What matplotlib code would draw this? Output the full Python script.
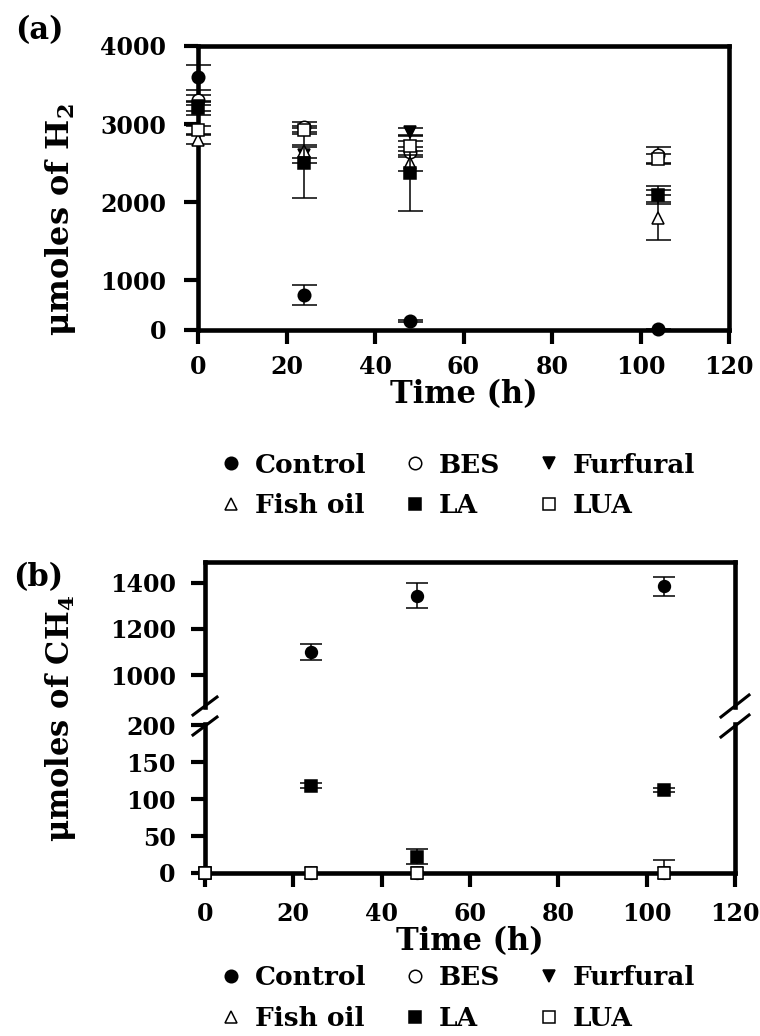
import numpy as np
import matplotlib
matplotlib.use('Agg')
import matplotlib.pyplot as plt
from matplotlib.lines import Line2D

# ---------------- data ----------------
series = ['Control', 'BES', 'Furfural', 'Fish oil', 'LA', 'LUA']
markers = ['o', 'o', 'v', '^', 's', 's']
fills = ['black', 'white', 'black', 'white', 'black', 'white']

time_a = [0, 24, 48, 104]
h2_control = [3600, 700, 180, 20]
h2_control_err = [160, 200, 20, 10]
h2_bes = [3310, 2960, 2640, 2600]
h2_bes_err = [60, 60, 60, 100]
h2_furfural = [3230, 2600, 2900, 2080]
h2_furfural_err = [60, 100, 50, 80]
h2_fishoil = [2800, 2650, 2500, 1800]
h2_fishoil_err = [60, 80, 100, 290]
h2_la = [3200, 2500, 2370, 2090]
h2_la_err = [80, 450, 490, 110]
h2_lua = [2920, 2920, 2720, 2550]
h2_lua_err = [50, 50, 60, 60]

time_b = [0, 24, 48, 104]
ch4_control = [0, 1100, 1345, 1385]
ch4_control_err = [0, 35, 55, 40]
ch4_bes = [0, 0, 0, 0]
ch4_bes_err = [0, 0, 0, 0]
ch4_furfural = [0, 0, 0, 0]
ch4_furfural_err = [0, 0, 0, 0]
ch4_fishoil = [0, 0, 0, 0]
ch4_fishoil_err = [0, 0, 0, 0]
ch4_la = [0, 118, 22, 112]
ch4_la_err = [0, 3, 10, 3]
ch4_lua = [0, 0, 0, 0]
ch4_lua_err = [0, 0, 0, 18]

h2_vals = [h2_control, h2_bes, h2_furfural, h2_fishoil, h2_la, h2_lua]
h2_errs = [h2_control_err, h2_bes_err, h2_furfural_err, h2_fishoil_err, h2_la_err, h2_lua_err]
ch4_vals = [ch4_control, ch4_bes, ch4_furfural, ch4_fishoil, ch4_la, ch4_lua]
ch4_errs = [ch4_control_err, ch4_bes_err, ch4_furfural_err, ch4_fishoil_err, ch4_la_err, ch4_lua_err]

x_ticks = [0, 20, 40, 60, 80, 100, 120]
h2_ticks = [0, 1000, 2000, 3000, 4000]
ch4_ticks_low = [0, 50, 100, 150, 200]
ch4_ticks_high = [1000, 1200, 1400]

# ---------------- style ----------------
plt.rcParams['font.family'] = ['DejaVu Serif']
plt.rcParams['font.weight'] = 'bold'
plt.rcParams['axes.labelweight'] = 'bold'
plt.rcParams['mathtext.fontset'] = 'dejavuserif'

W, H = 760, 1036
fig = plt.figure(figsize=(W / 100, H / 100), dpi=100)


def rect(x0, y0, x1, y1):
    return [x0 / W, 1 - y1 / H, (x1 - x0) / W, (y1 - y0) / H]


SPW = 3.3
MS = 9
MEW = 1.1
ELW = 1.1
CAP = 9


def style_axes(ax):
    for s in ax.spines.values():
        s.set_linewidth(SPW)
    ax.tick_params(axis='both', direction='out', length=10, width=3,
                   labelsize=17, right=False, top=False)
    ax.set_xlim(0, 120)
    ax.set_xticks(x_ticks)
    ax.minorticks_off()


# ---------------- panel (a) ----------------
def fwd(y):
    y = np.asarray(y, dtype=float)
    return np.where(y < 1000, y * 0.641, y - 359)


def inv(u):
    u = np.asarray(u, dtype=float)
    return np.where(u < 641, u / 0.641, u + 359)


axa = fig.add_axes(rect(198, 46, 729, 330))
style_axes(axa)
axa.set_yscale('function', functions=(fwd, inv))
axa.set_ylim(0, 4000)
axa.set_yticks(h2_ticks)
axa.minorticks_off()
axa.tick_params(axis='y', pad=13)
axa.tick_params(axis='x', pad=8)

for i, (name, v, e) in enumerate(zip(series, h2_vals, h2_errs)):
    axa.errorbar(time_a, v, yerr=e, fmt='none', ecolor='black', elinewidth=ELW,
                 capsize=CAP, capthick=ELW, clip_on=False, zorder=2 + 2 * i)
    axa.plot(time_a, v, ls='none', marker=markers[i], ms=MS, mfc=fills[i],
             mec='black', mew=MEW, clip_on=False, zorder=3 + 2 * i)

axa.set_xlabel('Time (h)', fontsize=22, fontweight='bold', labelpad=0)
fig.text(60 / W, 1 - 220 / H, r'μmoles of H$_\mathbf{2}$', rotation=90,
         ha='center', va='center', fontsize=23, fontweight='bold')
fig.text(39 / W, 1 - 31 / H, '(a)', ha='center', va='center', fontsize=22,
         fontweight='bold')

# ---------------- panel (b) ----------------
axt = fig.add_axes(rect(205, 562, 735, 707))
axb = fig.add_axes(rect(205, 724, 735, 873))
for ax in (axt, axb):
    style_axes(ax)
axt.spines['bottom'].set_visible(False)
axb.spines['top'].set_visible(False)
axt.tick_params(axis='x', bottom=False, labelbottom=False)
axt.set_ylim(861, 1491)
axt.set_yticks(ch4_ticks_high)
axb.set_ylim(0, 201.4)
axb.set_yticks(ch4_ticks_low)
axt.tick_params(axis='y', pad=11)
axb.tick_params(axis='y', pad=11)
axb.tick_params(axis='x', pad=11)

low_top = 201.4
for i, (name, v, e) in enumerate(zip(series, ch4_vals, ch4_errs)):
    axt.errorbar(time_b, v, yerr=e, fmt='none', ecolor='black', elinewidth=ELW,
                 capsize=8, capthick=ELW, zorder=2 + 2 * i)
    axt.plot(time_b, v, ls='none', marker=markers[i], ms=8.5, mfc=fills[i],
             mec='black', mew=MEW, zorder=3 + 2 * i)
    va = np.array(v, dtype=float)
    vm = np.where(va < low_top, va, np.nan)
    axb.errorbar(time_b, vm, yerr=e, fmt='none', ecolor='black',
                 elinewidth=ELW, capsize=8, capthick=ELW, zorder=2 + 2 * i)
    axb.plot(time_b, vm, ls='none', marker=markers[i], ms=8.5, mfc=fills[i],
             mec='black', mew=MEW, clip_on=False, zorder=3 + 2 * i)

axb.set_xlabel('Time (h)', fontsize=22, fontweight='bold', labelpad=0)
fig.text(60 / W, 1 - 718 / H, r'μmoles of CH$_\mathbf{4}$', rotation=90,
         ha='center', va='center', fontsize=22, fontweight='bold')
fig.text(38 / W, 1 - 578 / H, '(b)', ha='center', va='center', fontsize=22,
         fontweight='bold')

# break marks
for xc, dx, dy in ((205, 12, 9), (735, 14, 11)):
    for yc in (706, 726):
        fig.add_artist(Line2D([(xc - dx) / W, (xc + dx) / W],
                              [1 - (yc + dy) / H, 1 - (yc - dy) / H],
                              color='black', lw=2.2))

# ---------------- legends ----------------
handles = [Line2D([], [], ls='none', marker=markers[i], ms=MS, mfc=fills[i],
                  mec='black', mew=MEW, label=series[i]) for i in range(6)]
order = [0, 3, 1, 4, 2, 5]
for yc in (485.5, 998):
    fig.legend([handles[k] for k in order], [series[k] for k in order], ncol=3,
               loc='center', bbox_to_anchor=(458 / W, 1 - yc / H), frameon=False,
               fontsize=19, handlelength=0.8, handletextpad=0.5,
               columnspacing=1.45, labelspacing=0.6, borderpad=0, borderaxespad=0)

fig.savefig('out.png', dpi=100)
